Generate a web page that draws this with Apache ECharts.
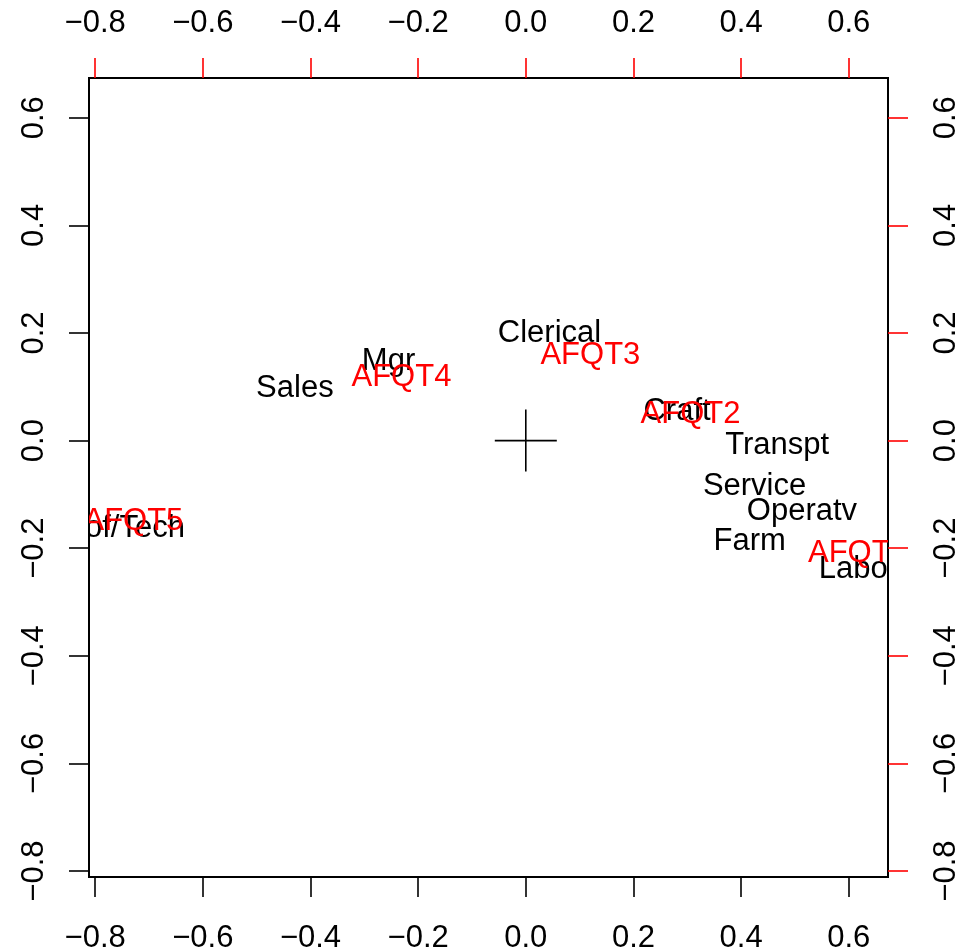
<!DOCTYPE html>
<html>
<head>
  <meta charset="utf-8">
  <title>CA biplot</title>
  <style type="text/css">
    html, body { margin: 0; padding: 0; background: #fff; }
    #main { width: 959px; height: 952px; }
  </style>
</head>
<body>
<div id="main"></div>
<script type="text/javascript" src="https://cdn.jsdelivr.net/npm/echarts@6/dist/echarts.min.js"></script>
<script type="text/javascript">
  // row points (occupations), black
  var rowNames = ['Clerical', 'Mgr', 'Sales', 'Craft', 'Transpt', 'Service', 'Operatv', 'Farm', 'Labor', 'Prof/Tech'];
  var rowX = [0.044, -0.255, -0.429, 0.281, 0.467, 0.425, 0.513, 0.416, 0.618, -0.755];
  var rowY = [0.203, 0.151, 0.101, 0.057, -0.006, -0.081, -0.128, -0.184, -0.236, -0.159];

  // column points (AFQT groups), red
  var colNames = ['AFQT1', 'AFQT2', 'AFQT3', 'AFQT4', 'AFQT5'];
  var colX = [0.617, 0.306, 0.120, -0.231, -0.729];
  var colY = [-0.206, 0.053, 0.162, 0.121, -0.147];

  // axis limits and tick labels
  var xLim = [-0.8115, 0.6729];
  var yLim = [-0.8111, 0.6739];
  var ticks = [-0.8, -0.6, -0.4, -0.2, 0.0, 0.2, 0.4, 0.6];

  // centre marker (+)
  var crossH = [[-0.0576, 0], [0.0576, 0]];
  var crossV = [[0, -0.0576], [0, 0.0576]];

  var FONT = '"Liberation Sans", Arial, sans-serif';

  function fmt(v) {
    return (v < -1e-9 ? '\u2212' : '') + Math.abs(v).toFixed(1);
  }

  function axisOf(pos, lim, color, margin, rotate) {
    return {
      type: 'value',
      position: pos,
      min: lim[0],
      max: lim[1],
      axisLine: {show: false, onZero: false},
      splitLine: {show: false},
      axisTick: {
        show: true,
        inside: false,
        length: 20,
        customValues: ticks,
        lineStyle: {color: color, width: 1.6}
      },
      axisLabel: {
        show: true,
        customValues: ticks,
        margin: margin,
        rotate: rotate,
        color: '#000',
        fontSize: 31,
        fontFamily: FONT,
        formatter: fmt
      }
    };
  }

  function textSeries(names, xs, ys, color) {
    var data = [];
    for (var i = 0; i < names.length; i++) {
      data.push([xs[i], ys[i]]);
    }
    return {
      type: 'custom',
      coordinateSystem: 'cartesian2d',
      clip: true,
      silent: true,
      data: data,
      renderItem: function (params, api) {
        var p = api.coord([api.value(0), api.value(1)]);
        return {
          type: 'text',
          x: p[0],
          y: p[1] + 2,
          style: {
            text: names[params.dataIndex],
            fill: color,
            font: '31px ' + FONT,
            align: 'center',
            verticalAlign: 'middle'
          }
        };
      }
    };
  }

  var myChart = echarts.init(document.getElementById('main'));

  var option = {
    backgroundColor: '#fff',
    animation: false,
    grid: {
      show: true,
      left: 89,
      top: 78,
      width: 799,
      height: 799,
      outerBoundsMode: 'none',
      containLabel: false,
      borderColor: '#000',
      borderWidth: 2,
      backgroundColor: 'transparent'
    },
    xAxis: [
      axisOf('bottom', xLim, '#000', 46, 0),
      axisOf('top', xLim, '#ff0000', 39, 0)
    ],
    yAxis: [
      axisOf('left', yLim, '#000', 39, 90),
      axisOf('right', yLim, '#ff0000', 43, 90)
    ],
    series: [
      {
        type: 'line',
        data: crossH,
        symbol: 'none',
        silent: true,
        lineStyle: {color: '#000', width: 1.6}
      },
      {
        type: 'line',
        data: crossV,
        symbol: 'none',
        silent: true,
        lineStyle: {color: '#000', width: 1.6}
      },
      textSeries(rowNames, rowX, rowY, '#000'),
      textSeries(colNames, colX, colY, '#ff0000')
    ]
  };

  myChart.setOption(option);
</script>
</body>
</html>
